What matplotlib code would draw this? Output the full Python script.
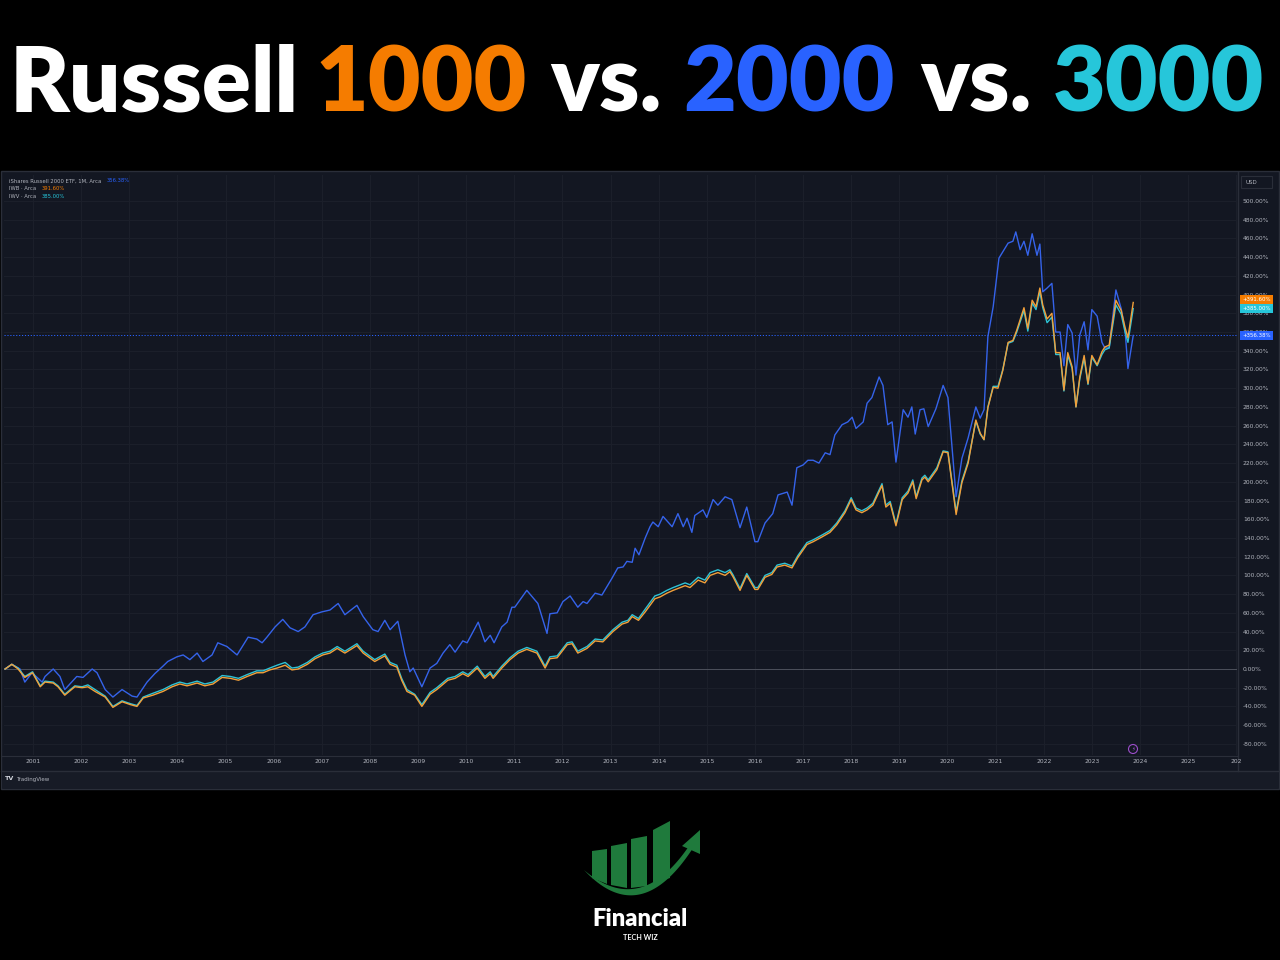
import numpy as np
import matplotlib.pyplot as plt
from matplotlib.patches import Rectangle, Polygon, Circle
from matplotlib.transforms import blended_transform_factory

# ---- data (percent change since mid-2000, monthly closes) ----
iwm_dates = [2000.42, 2000.56, 2000.73, 2000.83, 2000.98, 2001.19, 2001.25, 2001.42, 2001.56, 2001.66,
             2001.91, 2002.04, 2002.23, 2002.33, 2002.50, 2002.66, 2002.85, 2003.06, 2003.16, 2003.37,
             2003.53, 2003.70, 2003.80, 2003.99, 2004.12, 2004.26, 2004.41, 2004.53, 2004.72, 2004.84,
             2005.03, 2005.24, 2005.47, 2005.65, 2005.76, 2005.86, 2006.03, 2006.19, 2006.34, 2006.51,
             2006.65, 2006.82, 2007.00, 2007.17, 2007.34, 2007.48, 2007.73, 2007.86, 2008.06, 2008.17,
             2008.31, 2008.42, 2008.58, 2008.73, 2008.83, 2008.90, 2009.08, 2009.25, 2009.39, 2009.52,
             2009.66, 2009.77, 2009.93, 2010.02, 2010.25, 2010.39, 2010.50, 2010.58, 2010.74, 2010.85,
             2010.95, 2011.01, 2011.26, 2011.49, 2011.68, 2011.74, 2011.89, 2012.01, 2012.16, 2012.32,
             2012.43, 2012.51, 2012.68, 2012.82, 2013.03, 2013.15, 2013.26, 2013.34, 2013.45, 2013.51,
             2013.59, 2013.72, 2013.82, 2013.88, 2013.99, 2014.09, 2014.28, 2014.40, 2014.51, 2014.59,
             2014.69, 2014.75, 2014.92, 2015.00, 2015.13, 2015.23, 2015.38, 2015.52, 2015.69, 2015.83,
             2016.00, 2016.06, 2016.21, 2016.37, 2016.48, 2016.67, 2016.77, 2016.87, 2017.00, 2017.10,
             2017.21, 2017.33, 2017.46, 2017.56, 2017.66, 2017.81, 2017.93, 2018.02, 2018.10, 2018.25,
             2018.33, 2018.43, 2018.58, 2018.66, 2018.76, 2018.85, 2018.93, 2019.08, 2019.18, 2019.26,
             2019.33, 2019.43, 2019.51, 2019.60, 2019.76, 2019.91, 2020.01, 2020.18, 2020.30, 2020.43,
             2020.59, 2020.68, 2020.76, 2020.84, 2020.95, 2021.07, 2021.26, 2021.36, 2021.42, 2021.51,
             2021.59, 2021.67, 2021.76, 2021.86, 2021.92, 2021.98, 2022.07, 2022.17, 2022.25, 2022.34,
             2022.42, 2022.50, 2022.59, 2022.67, 2022.75, 2022.84, 2022.92, 2023.00, 2023.11, 2023.21,
             2023.27, 2023.36, 2023.50, 2023.61, 2023.69, 2023.75, 2023.86]
iwm_vals = [0, 5, 0, -14, -4, -14, -8, 0, -8, -22,
            -8, -9, 0, -4, -22, -30, -22, -29, -30, -14,
            -5, 3, 8, 13, 15, 10, 17, 8, 15, 28,
            24, 15, 34, 32, 28, 34, 45, 53, 44, 40,
            45, 58, 61, 63, 70, 58, 68, 56, 42, 40,
            52, 42, 51, 15, -3, 1, -19, 1, 6, 17,
            26, 18, 30, 28, 50, 29, 36, 28, 45, 50,
            66, 66, 84, 70, 38, 59, 60, 72, 78, 66,
            72, 70, 81, 79, 97, 108, 109, 115, 114, 129,
            122, 140, 152, 157, 152, 163, 152, 166, 152, 161,
            146, 164, 170, 162, 181, 175, 184, 181, 151, 173,
            136, 136, 156, 166, 186, 189, 175, 215, 218, 223,
            223, 220, 231, 229, 250, 261, 264, 269, 257, 264,
            284, 290, 312, 303, 261, 264, 221, 277, 269, 280,
            251, 277, 278, 259, 278, 303, 290, 184, 225, 247,
            280, 268, 277, 355, 387, 439, 455, 457, 467, 448,
            457, 442, 465, 442, 454, 403, 407, 412, 360, 360,
            324, 368, 359, 314, 357, 371, 341, 384, 377, 349,
            343, 343, 405, 385, 362, 321, 356.38]

big_dates = [2000.42, 2000.56, 2000.69, 2000.83, 2000.99, 2001.15, 2001.25, 2001.42, 2001.52, 2001.66,
             2001.87, 2002.02, 2002.14, 2002.29, 2002.50, 2002.66, 2002.85, 2003.02, 2003.16, 2003.29,
             2003.49, 2003.70, 2003.89, 2004.05, 2004.20, 2004.41, 2004.57, 2004.74, 2004.93, 2005.10,
             2005.27, 2005.45, 2005.65, 2005.78, 2005.92, 2006.07, 2006.24, 2006.38, 2006.51, 2006.70,
             2006.86, 2007.02, 2007.17, 2007.32, 2007.48, 2007.73, 2007.86, 2008.10, 2008.31, 2008.42,
             2008.56, 2008.66, 2008.77, 2008.93, 2009.08, 2009.25, 2009.39, 2009.62, 2009.77, 2009.93,
             2010.04, 2010.23, 2010.39, 2010.50, 2010.56, 2010.74, 2010.91, 2011.08, 2011.26, 2011.47,
             2011.64, 2011.74, 2011.89, 2012.10, 2012.20, 2012.32, 2012.51, 2012.68, 2012.84, 2013.05,
             2013.24, 2013.36, 2013.45, 2013.58, 2013.72, 2013.82, 2013.92, 2014.03, 2014.17, 2014.30,
             2014.40, 2014.55, 2014.65, 2014.82, 2014.96, 2015.07, 2015.23, 2015.38, 2015.48, 2015.54,
             2015.69, 2015.83, 2016.00, 2016.06, 2016.21, 2016.35, 2016.46, 2016.62, 2016.77, 2016.89,
             2017.08, 2017.21, 2017.39, 2017.56, 2017.70, 2017.87, 2018.00, 2018.10, 2018.22, 2018.33,
             2018.45, 2018.64, 2018.72, 2018.81, 2018.93, 2019.06, 2019.18, 2019.28, 2019.35, 2019.47,
             2019.53, 2019.60, 2019.78, 2019.91, 2020.01, 2020.18, 2020.30, 2020.43, 2020.59, 2020.68,
             2020.76, 2020.84, 2020.95, 2021.05, 2021.15, 2021.26, 2021.36, 2021.44, 2021.59, 2021.67,
             2021.76, 2021.84, 2021.92, 2021.98, 2022.07, 2022.17, 2022.25, 2022.34, 2022.42, 2022.50,
             2022.59, 2022.67, 2022.75, 2022.84, 2022.92, 2023.00, 2023.11, 2023.21, 2023.27, 2023.36,
             2023.50, 2023.61, 2023.69, 2023.75, 2023.86]
iwb_vals = [0, 5, 0, -9, -4, -19, -14, -15, -19, -28,
            -19, -20, -19, -24, -30, -41, -35, -38, -40, -31,
            -28, -24, -19, -16, -18, -15, -18, -16, -9, -10,
            -12, -8, -4, -4, -1, 1, 4, -1, 0, 5,
            11, 15, 17, 22, 17, 25, 17, 8, 14, 5,
            2, -12, -24, -28, -40, -27, -22, -12, -10, -5,
            -8, 1, -10, -5, -10, 1, 10, 17, 21, 17,
            1, 11, 12, 26, 27, 17, 22, 30, 29, 40,
            48, 50, 56, 52, 61, 68, 75, 77, 81, 84,
            86, 89, 87, 95, 92, 100, 103, 100, 104, 99,
            84, 100, 85, 85, 98, 101, 109, 111, 108, 119,
            133, 136, 141, 146, 154, 167, 181, 170, 167, 170,
            175, 196, 173, 177, 153, 181, 188, 200, 182, 202,
            205, 200, 213, 232, 231, 165, 199, 220, 266, 252,
            245, 279, 301, 300, 319, 349, 351, 362, 386, 364,
            394, 387, 407, 389, 374, 380, 338, 338, 298, 338,
            323, 280, 312, 335, 305, 335, 325, 339, 344, 346,
            394, 383, 365, 354, 391.6]
iwv_vals = [0, 5, 1, -8, -3, -18, -13, -14, -18, -27,
            -18, -19, -17, -22, -29, -40, -34, -37, -39, -30,
            -26, -22, -17, -14, -16, -13, -16, -14, -7, -8,
            -10, -6, -2, -2, 1, 4, 7, 1, 2, 7,
            13, 17, 19, 24, 19, 27, 19, 10, 16, 7,
            4, -10, -22, -27, -38, -25, -20, -10, -8, -3,
            -6, 3, -8, -3, -8, 3, 12, 19, 23, 19,
            3, 13, 14, 28, 29, 19, 24, 32, 31, 42,
            50, 52, 58, 54, 64, 71, 78, 80, 84, 87,
            89, 92, 90, 98, 95, 103, 106, 103, 106, 101,
            86, 102, 87, 87, 100, 103, 111, 113, 110, 121,
            135, 138, 143, 148, 156, 169, 183, 172, 169, 172,
            177, 198, 175, 179, 155, 183, 190, 202, 184, 204,
            207, 202, 215, 233, 232, 168, 201, 222, 265, 251,
            245, 280, 302, 302, 320, 348, 350, 360, 383, 361,
            391, 384, 403, 386, 370, 376, 336, 336, 297, 335,
            321, 280, 310, 332, 304, 333, 324, 336, 341, 343,
            389, 379, 360, 349, 385.0]

year_ticks = list(range(2001, 2027))
year_labels = [str(y) for y in range(2001, 2026)] + ['202']
pct_ticks = list(range(-80, 501, 20))

title_words = ['Russell', '1000', 'vs.', '2000', 'vs.', '3000']
legend_rows = [('iShares Russell 2000 ETF, 1M, Arca', '356.38%'),
               ('IWB \u00b7 Arca', '391.60%'),
               ('IWV \u00b7 Arca', '385.00%')]

# ---- colours ----
BG = '#131722'
GRID = '#1c202b'
EDGE = '#2a2e39'
TXT = '#b2b5be'
C_BLUE, C_ORANGE, C_CYAN = '#3563ea', '#f2a03a', '#2ec4d6'
T_BLUE, T_ORANGE, T_CYAN = '#2962ff', '#f57c00', '#26c6da'
GREEN = '#1f7a3c'
HEAD = 'Lato'

W, H = 1280, 960
fig = plt.figure(figsize=(12.8, 9.6), dpi=100, facecolor='black')

# background layer in pixel coordinates (y downwards)
deco = fig.add_axes([0, 0, 1, 1], zorder=0)
deco.set_xlim(0, W)
deco.set_ylim(H, 0)
deco.axis('off')
deco.set_facecolor('none')

deco.add_patch(Rectangle((1, 171), 1278, 618, fc=BG, ec=EDGE, lw=1))
deco.add_patch(Rectangle((2, 771), 1276, 17, fc='#171b26', ec='none'))
deco.plot([1, 1279], [771, 771], color=EDGE, lw=1)
deco.plot([1, 1238], [755.5, 755.5], color=EDGE, lw=0.8)
deco.plot([1238, 1238], [172, 771], color=EDGE, lw=1)

# title, words placed where they sit in the picture
renderer = fig.canvas.get_renderer()
probe = [deco.text(0, 0, w, fontsize=60, family=HEAD, weight='heavy') for w in title_words]
tot = sum(t.get_window_extent(renderer).width for t in probe)
for t in probe:
    t.remove()
fs = 60 * 1145 / tot
title_x = [10, 315, 550, 683, 920, 1053]
title_c = ['white', T_ORANGE, 'white', T_BLUE, 'white', T_CYAN]
for w, x, c in zip(title_words, title_x, title_c):
    deco.text(x, 112, w, fontsize=fs, family=HEAD, weight='heavy', color=c,
              ha='left', va='baseline')

# ---- chart ----
ax = fig.add_axes([4 / W, (H - 755) / H, 1233 / W, 580 / H], zorder=1)
ax.set_facecolor(BG)
for s in ax.spines.values():
    s.set_visible(False)
ax.set_xlim(2000.3975, 2026.016)
ax.set_ylim(-91.9, 527.8)

ax.set_xticks(year_ticks)
ax.set_xticklabels(year_labels)
ax.set_yticks(pct_ticks)
ax.set_yticklabels([f'{v:.2f}%' for v in pct_ticks])
ax.yaxis.tick_right()
ax.tick_params(axis='both', length=0, colors=TXT, labelsize=4.3)
ax.tick_params(axis='x', pad=3.2)
ax.tick_params(axis='y', pad=4.2)
ax.grid(True, color=GRID, lw=0.7)
ax.set_axisbelow(True)

ax.axhline(0, color='#4c505b', lw=0.7, zorder=1)
ax.axhline(iwm_vals[-1], color=T_BLUE, lw=0.7, ls=(0, (1.2, 1.8)), zorder=1)

ax.plot(iwm_dates, iwm_vals, color=C_BLUE, lw=1.0, zorder=3)
ax.plot(big_dates, iwv_vals, color=C_CYAN, lw=1.0, zorder=3)
ax.plot(big_dates, iwb_vals, color=C_ORANGE, lw=1.0, zorder=4)

# last value tags on the price scale
bt = blended_transform_factory(ax.transAxes, ax.transData)
tags = [(iwb_vals[-1], 3.7, T_ORANGE), (iwv_vals[-1], 0, T_CYAN), (iwm_vals[-1], 0, T_BLUE)]
for v, off, c in tags:
    yc = v + off
    ax.add_patch(Rectangle((1.0025, yc - 4.8), 0.027, 9.6, transform=bt, fc=c, ec='none',
                           clip_on=False, zorder=6))
    ax.text(1.016, yc, f'+{v:.2f}%', transform=bt, ha='center', va='center', fontsize=3.9,
            color='white', clip_on=False, zorder=7)

# overlay for things that sit on top of the chart
top = fig.add_axes([0, 0, 1, 1], zorder=3)
top.set_xlim(0, W)
top.set_ylim(H, 0)
top.axis('off')
top.set_facecolor('none')
for i, (name, val) in enumerate(legend_rows):
    y = 181 + 8 * i
    top.text(9, y, name, fontsize=3.8, color=TXT, va='center', ha='left')
    top.text(107 if i == 0 else 42, y, val, fontsize=3.8, color=[T_BLUE, T_ORANGE, T_CYAN][i],
             va='center', ha='left')

top.add_patch(Rectangle((1241, 176), 31, 12, fc=BG, ec=EDGE, lw=0.8))
top.text(1246, 182, 'USD', fontsize=4, color=TXT, va='center', ha='left')
top.add_patch(Circle((1133, 749), 4.5, fill=False, ec='#9b4dca', lw=0.8))
top.text(1133, 749, '\u26a1', fontsize=4, color='#9b4dca', ha='center', va='center')
top.text(5, 779, 'TV', fontsize=4.6, weight='bold', color='#d1d4dc', va='center', ha='left')
top.text(16, 779, 'TradingView', fontsize=4, color=TXT, va='center', ha='left')

# ---- logo ----
bars = [[(592, 851), (607, 849), (607, 884), (592, 878)],
        [(611, 846), (627, 843), (627, 888), (611, 885)],
        [(631, 839), (647, 836), (647, 886), (631, 888)],
        [(653, 830), (670, 821), (670, 878), (653, 883)]]
for b in bars:
    deco.add_patch(Polygon(b, closed=True, fc=GREEN, ec='none'))
t = np.linspace(0, 1, 60)
lo_x = (1 - t) ** 2 * 584 + 2 * (1 - t) * t * 640 + t ** 2 * 693
lo_y = (1 - t) ** 2 * 870 + 2 * (1 - t) * t * 930 + t ** 2 * 848
up_x = (1 - t) ** 2 * 584 + 2 * (1 - t) * t * 640 + t ** 2 * 689
up_y = (1 - t) ** 2 * 870 + 2 * (1 - t) * t * 918 + t ** 2 * 846
sw = np.column_stack([np.concatenate([lo_x, up_x[::-1]]), np.concatenate([lo_y, up_y[::-1]])])
deco.add_patch(Polygon(sw, closed=True, fc=GREEN, ec='none'))
deco.add_patch(Polygon([(700, 830), (682, 846), (700, 854)], closed=True, fc=GREEN, ec='none'))
deco.text(640, 926, 'Financial', fontsize=17, family=HEAD, weight='heavy', color='white',
          ha='center', va='baseline')
deco.text(640, 938, 'TECH WIZ', fontsize=5.2, family=HEAD, weight='bold', color='white',
          ha='center', va='center')

fig.savefig('out.png', dpi=100, facecolor='black')
